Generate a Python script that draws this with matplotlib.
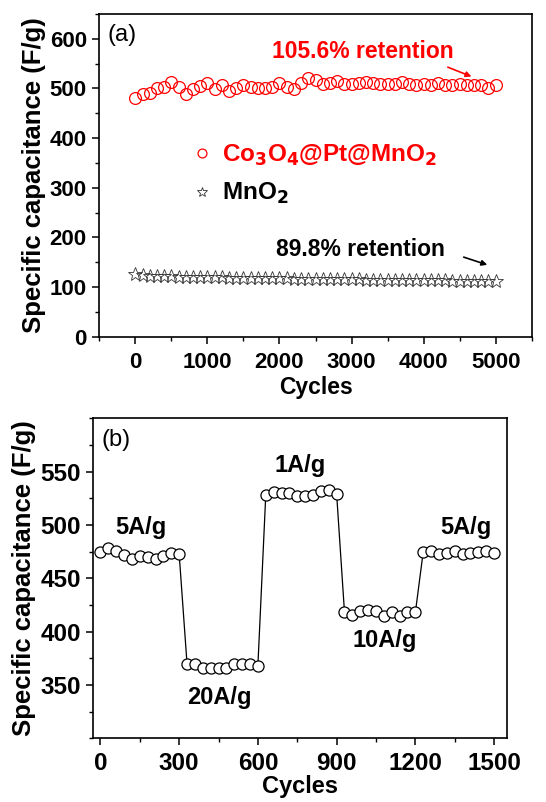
import numpy as np
import matplotlib.pyplot as plt
import matplotlib as mpl
from matplotlib.ticker import MultipleLocator

mpl.rcParams['font.family'] = ['Liberation Sans', 'DejaVu Sans']
mpl.rcParams['font.weight'] = 'bold'
mpl.rcParams['axes.labelweight'] = 'bold'
mpl.rcParams['axes.linewidth'] = 1.2

# (a) cycling stability
cyc_a = np.arange(0, 5001, 100)
cap_com = [481, 488, 491, 500, 503, 513, 503, 488, 499, 505,
           511, 499, 508, 495, 501, 508, 503, 501, 501, 503,
           511, 503, 499, 511, 521, 518, 510, 511, 515, 509,
           510, 511, 513, 511, 510, 509, 509, 513, 510, 508,
           509, 508, 511, 508, 508, 510, 508, 508, 508, 501, 508]
cap_mno2 = [126, 124, 123, 123, 122, 122, 121, 121, 121, 120,
            120, 120, 120, 119, 119, 119, 119, 118, 118, 118,
            118, 118, 117, 117, 117, 117, 117, 116, 116, 116,
            116, 116, 115, 115, 115, 115, 115, 115, 114, 114,
            114, 114, 114, 114, 113, 113, 113, 113, 113, 113, 112]

# (b) rate performance
cyc_b = np.arange(0, 1501, 30)
cap_rate = [475, 478, 476, 472, 468, 471, 470, 468, 471, 474, 473,
            370, 370, 366, 366, 366, 366, 370, 370, 370, 368,
            528, 531, 530, 530, 527, 527, 528, 532, 533, 529,
            418, 416, 419, 420, 419, 415, 418, 415, 418, 418,
            475, 476, 473, 474, 476, 473, 474, 475, 476, 474]
rate_labels = ['5A/g', '20A/g', '1A/g', '10A/g', '5A/g']
rate_pos = [(156, 498), (453, 338), (761, 556), (1085, 392), (1393, 498)]

fig = plt.figure(figsize=(5.46, 8.02), dpi=100)
ax1 = fig.add_axes([0.1819, 0.5802, 0.7919, 0.4023])
ax2 = fig.add_axes([0.1709, 0.0794, 0.7581, 0.3990])

# panel a
ax1.plot(cyc_a, cap_com, 'o', ms=8.5, mfc='none', mec='red', mew=0.9,
         label='Co$_\\mathbf{3}$O$_\\mathbf{4}$@Pt@MnO$_\\mathbf{2}$')
ax1.plot(cyc_a, cap_mno2, '*', ms=10, mfc='none', mec='#333333', mew=0.6,
         label='MnO$_\\mathbf{2}$')
ax1.set_xlim(-500, 5500)
ax1.set_ylim(0, 650)
ax1.xaxis.set_major_locator(MultipleLocator(1000))
ax1.xaxis.set_minor_locator(MultipleLocator(500))
ax1.yaxis.set_major_locator(MultipleLocator(100))
ax1.yaxis.set_minor_locator(MultipleLocator(50))
ax1.set_xlabel('Cycles', fontsize=16.5, labelpad=2)
ax1.set_ylabel('Specific capacitance (F/g)', fontsize=18.5, labelpad=3)
ax1.text(-390, 608, '(a)', fontsize=17, fontweight='normal', va='center')
ax1.text(1900, 575, '105.6% retention', fontsize=16.5, color='red', va='center')
ax1.annotate('', xy=(4700, 522), xytext=(4300, 545),
             arrowprops=dict(arrowstyle='-|>', color='red', lw=1.2,
                             mutation_scale=8))
ax1.text(1950, 175, '89.8% retention', fontsize=16.5, color='black', va='center')
ax1.annotate('', xy=(4920, 143), xytext=(4520, 162),
             arrowprops=dict(arrowstyle='-|>', color='black', lw=1.2,
                             mutation_scale=8))
leg = ax1.legend(loc='center left', bbox_to_anchor=(0.213, 0.503), frameon=False,
                 prop={'size': 17.5, 'weight': 'bold'}, handlelength=0.9,
                 handletextpad=0.35, labelspacing=0.55, markerscale=0.75,
                 labelcolor=['red', 'black'], borderaxespad=0, borderpad=0)

# panel b
ax2.plot(cyc_b, cap_rate, 'o-', color='black', lw=0.9, ms=8,
         mfc='white', mec='black', mew=0.9)
for lab, (x, y) in zip(rate_labels, rate_pos):
    ax2.text(x, y, lab, fontsize=17, ha='center', va='center')
ax2.text(5, 580, '(b)', fontsize=17, fontweight='normal', va='center')
ax2.set_xlim(-27, 1550)
ax2.set_ylim(300, 600)
ax2.xaxis.set_major_locator(MultipleLocator(300))
ax2.xaxis.set_minor_locator(MultipleLocator(150))
ax2.set_yticks([350, 400, 450, 500, 550])
ax2.yaxis.set_minor_locator(MultipleLocator(25))
ax2.set_xlabel('Cycles', fontsize=17, labelpad=0)
ax2.set_ylabel('Specific capacitance (F/g)', fontsize=18.5, labelpad=3)

for ax, ls in ((ax1, 16), (ax2, 17.5)):
    ax.tick_params(which='major', length=5, width=1.1, labelsize=ls)
    ax.tick_params(which='minor', length=3, width=1.0)
    ax.tick_params(axis='x', pad=6)
    ax.tick_params(axis='y', pad=4)
    for t in ax.get_xticklabels() + ax.get_yticklabels():
        t.set_fontweight('bold')
ax2.tick_params(axis='x', pad=5)

fig.savefig('out.png', dpi=100)
